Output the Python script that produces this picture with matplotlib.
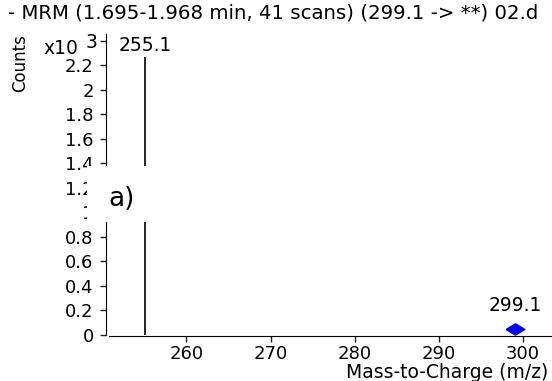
import numpy as np
import matplotlib
matplotlib.use('Agg')
import matplotlib.pyplot as plt
from matplotlib.patches import Rectangle

plt.rcParams['font.family'] = ['DejaVu Sans']

# spectrum data (counts in units of 10^3)
title = '- MRM (1.695-1.968 min, 41 scans) (299.1 -> **) 02.d'
peak_mz = [255.1]
peak_counts = [2.27]
precursor_mz = [299.1]
precursor_counts = [0.05]
x_ticks = [260, 270, 280, 290, 300]
y_ticks = [0, 0.2, 0.4, 0.6, 0.8, 1.0, 1.2, 1.4, 1.6, 1.8, 2.0, 2.2, 2.4]
y_ticklabels = ['0', '0.2', '0.4', '0.6', '0.8', '1', '1.2', '1.4', '1.6',
                '1.8', '2', '2.2', '']

W, H = 552, 381
fs = 13
fig = plt.figure(figsize=(W / 100, H / 100), dpi=100)
ax = fig.add_axes([109 / W, 46 / H, 443 / W, 301 / H])

# product ion as a stick, precursor as a diamond
ax.vlines(peak_mz, 0, peak_counts, color='black', lw=1.2)
diamond = [(-1, 0), (0, 0.6), (1, 0), (0, -0.6), (-1, 0)]
ax.plot(precursor_mz, precursor_counts, ls='none', marker=diamond,
        markersize=13.5, color='#0000ff', clip_on=False)

for x, y in zip(peak_mz, peak_counts):
    ax.annotate('%.1f' % x, (x, y), xytext=(0, 1.5), textcoords='offset points',
                ha='center', va='bottom', fontsize=13.5)
for x, y in zip(precursor_mz, precursor_counts):
    ax.annotate('%.1f' % x, (x, y), xytext=(0, 16.5), textcoords='offset points',
                ha='center', va='center', fontsize=13.5)

ax.set_xlim(250.79, 303.45)
ax.set_ylim(0, 2.457)
ax.set_xticks(x_ticks)
ax.set_yticks(y_ticks)
ax.set_yticklabels(y_ticklabels)

for s in ['top', 'right']:
    ax.spines[s].set_visible(False)
ax.spines['left'].set_position(('outward', 2))
ax.spines['bottom'].set_position(('outward', 1))
ax.tick_params(axis='both', labelsize=fs, length=4.5, width=1, color='#222222')
ax.tick_params(axis='y', pad=4.5)
ax.tick_params(axis='x', pad=2)

# labels, title
fig.text(8 / W, 1 - 13 / H, title, ha='left', va='center', fontsize=14.2)
fig.text(20 / W, 1 - 63 / H, 'Counts', rotation=90, ha='center', va='center',
         fontsize=12)
fig.text(43 / W, 1 - 48 / H, 'x10', ha='left', va='center', fontsize=13.5)
fig.text(86 / W, 1 - 43 / H, '3', ha='left', va='center', fontsize=13.5)
fig.text(548 / W, 1 - 372 / H, 'Mass-to-Charge (m/z)', ha='right',
         va='center', fontsize=13.5)

# white band with panel label
fig.patches.append(Rectangle((87 / W, 1 - 222 / H), 1, 56 / H,
                             transform=fig.transFigure, facecolor='white',
                             edgecolor='none', zorder=10))
fig.text(108 / W, 1 - 199 / H, 'a)', ha='left', va='center', fontsize=19,
         zorder=11)

fig.savefig('out.png', dpi=100)
